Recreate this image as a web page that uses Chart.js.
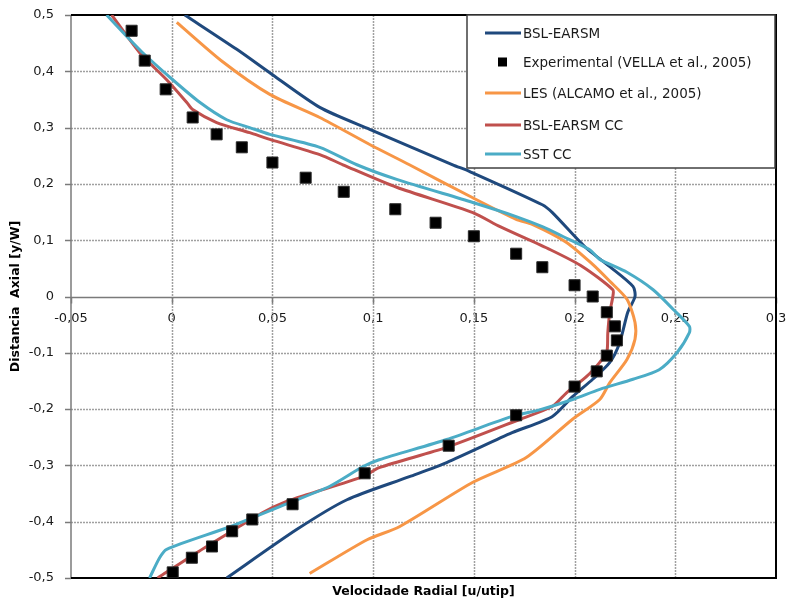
<!DOCTYPE html>
<html>
<head>
<meta charset="utf-8">
<title>Velocidade Radial</title>
<script src="https://cdn.jsdelivr.net/npm/chart.js@4.4.1/dist/chart.umd.min.js"></script>
<style>
  html, body { margin: 0; padding: 0; background: #fff; }
  #chart { display: block; }
</style>
</head>
<body>
<canvas id="chart" width="793" height="601"></canvas>
<script>
// pares [u/utip, y/W]
var experimental = [
    [-0.0199, 0.472], [-0.0134, 0.419], [-0.003, 0.368], [0.0104, 0.318], [0.0223, 0.288],
    [0.0348, 0.265], [0.050, 0.238], [0.0665, 0.211], [0.0854, 0.186], [0.111, 0.155],
    [0.131, 0.131], [0.150, 0.107], [0.171, 0.076], [0.184, 0.052], [0.200, 0.020],
    [0.209, 0.0], [0.216, -0.028], [0.220, -0.053], [0.221, -0.078], [0.216, -0.105],
    [0.211, -0.133], [0.200, -0.160], [0.171, -0.211], [0.1375, -0.265], [0.0958, -0.314],
    [0.060, -0.369], [0.040, -0.396], [0.030, -0.417], [0.020, -0.444], [0.010, -0.464],
    [0.0005, -0.490]
];
var bslEarsm = [
    [0.0065, 0.5], [0.0323, 0.439], [0.050, 0.394], [0.0735, 0.336], [0.0983, 0.297],
    [0.1395, 0.234], [0.148, 0.222], [0.184, 0.163], [0.189, 0.149], [0.2055, 0.087],
    [0.2175, 0.053], [0.229, 0.018], [0.230, 0.0], [0.2264, -0.028], [0.2224, -0.082],
    [0.2175, -0.117], [0.209, -0.147], [0.199, -0.178], [0.189, -0.213], [0.169, -0.242],
    [0.1365, -0.295], [0.118, -0.320], [0.087, -0.361], [0.062, -0.414], [0.0273, -0.5]
];
var les = [
    [0.0025, 0.487], [0.0253, 0.417], [0.0487, 0.359], [0.0735, 0.318], [0.0983, 0.270],
    [0.118, 0.234], [0.148, 0.178], [0.171, 0.137], [0.179, 0.128], [0.196, 0.096],
    [0.209, 0.057], [0.2175, 0.027], [0.226, -0.005], [0.230, -0.046], [0.230, -0.076],
    [0.226, -0.112], [0.2175, -0.153], [0.2125, -0.183], [0.199, -0.218], [0.176, -0.286],
    [0.1495, -0.330], [0.113, -0.409], [0.097, -0.432], [0.0685, -0.492]
];
var bslEarsmCC = [
    [-0.0298, 0.5], [-0.0159, 0.433], [-0.0025, 0.385], [0.0074, 0.345], [0.0104, 0.332],
    [0.0223, 0.309], [0.0387, 0.291], [0.0487, 0.279], [0.0735, 0.252], [0.085, 0.234],
    [0.1117, 0.194], [0.1495, 0.149], [0.163, 0.124], [0.188, 0.083], [0.204, 0.053],
    [0.219, 0.012], [0.219, 0.0], [0.2175, -0.028], [0.2165, -0.064], [0.216, -0.099],
    [0.2125, -0.117], [0.206, -0.142], [0.196, -0.171], [0.189, -0.195], [0.173, -0.218],
    [0.1365, -0.268], [0.103, -0.304], [0.095, -0.320], [0.067, -0.352], [0.057, -0.364],
    [0.045, -0.384], [0.0288, -0.419], [0.0124, -0.455], [-0.007, -0.5]
];
var sstCC = [
    [-0.0323, 0.5], [-0.0223, 0.462], [-0.0144, 0.433], [0.0005, 0.385], [0.0139, 0.345],
    [0.0273, 0.314], [0.0387, 0.300], [0.0487, 0.288], [0.0735, 0.265], [0.0919, 0.234],
    [0.1117, 0.208], [0.1495, 0.167], [0.171, 0.142], [0.184, 0.124], [0.194, 0.107],
    [0.2075, 0.083], [0.2125, 0.066], [0.226, 0.043], [0.239, 0.012], [0.249, -0.023],
    [0.257, -0.053], [0.257, -0.064], [0.251, -0.099], [0.242, -0.130], [0.229, -0.147],
    [0.2125, -0.165], [0.199, -0.183], [0.183, -0.201], [0.169, -0.213], [0.1365, -0.254],
    [0.103, -0.290], [0.095, -0.302], [0.0785, -0.337], [0.0586, -0.366], [0.0288, -0.409],
    [-0.0025, -0.449], [-0.006, -0.464], [-0.011, -0.5]
];

var seriesNames = ['BSL-EARSM', 'Experimental (VELLA et al., 2005)', 'LES (ALCAMO et al., 2005)', 'BSL-EARSM CC', 'SST CC'];
var seriesColors = ['#1f497d', '#000000', '#f79646', '#c0504d', '#4bacc6'];

var xTicks = [-0.05, 0, 0.05, 0.1, 0.15, 0.2, 0.25, 0.3];
var yTicks = [-0.5, -0.4, -0.3, -0.2, -0.1, 0, 0.1, 0.2, 0.3, 0.4, 0.5];

var xTitle = 'Velocidade Radial [u/utip]';
var yTitle = 'Distancia  Axial [y/W]';

// ====== helpers ======
function toXY(arr) {
    return arr.map(function(p) { return { x: p[0], y: p[1] }; });
}
function fmt(v) {
    return String(Math.round(v * 100) / 100).replace('.', ',');
}
function lineSet(i, arr) {
    return {
        label: seriesNames[i],
        data: toXY(arr),
        showLine: true,
        borderColor: seriesColors[i],
        borderWidth: 3,
        pointRadius: 0,
        tension: 0.25
    };
}
function seg(g, x1, y1, x2, y2) {
    g.beginPath();
    g.moveTo(x1, y1);
    g.lineTo(x2, y2);
    g.stroke();
}

Chart.defaults.font.family = '"DejaVu Sans", Verdana, sans-serif';
Chart.defaults.font.size = 13;
Chart.defaults.color = '#1a1a1a';

// ====== grade, eixos, moldura, títulos e legenda ======
var decor = {
    id: 'decor',
    beforeDatasetsDraw: function(chart) {
        var a = chart.chartArea, g = chart.ctx;
        var sx = chart.scales.x, sy = chart.scales.y;
        var y0 = Math.round(sy.getPixelForValue(0)) + 0.5;
        var i, p;
        g.save();
        // grade pontilhada
        g.strokeStyle = '#a0a0a0';
        g.lineWidth = 1.5;
        g.setLineDash([2, 1]);
        for (i = 1; i < xTicks.length - 1; i++) {
            p = Math.round(sx.getPixelForValue(xTicks[i])) + 0.5;
            seg(g, p, a.top, p, a.bottom);
        }
        for (i = 1; i < yTicks.length - 1; i++) {
            if (yTicks[i] === 0) continue;
            p = Math.round(sy.getPixelForValue(yTicks[i])) + 0.5;
            seg(g, a.left, p, a.right, p);
        }
        // eixos cinzas e marcas
        g.setLineDash([]);
        g.strokeStyle = '#7a7a7a';
        g.lineWidth = 1.5;
        seg(g, a.left, a.top, a.left, a.bottom);
        seg(g, a.left, y0, a.right, y0);
        for (i = 0; i < yTicks.length; i++) {
            p = Math.round(sy.getPixelForValue(yTicks[i])) + 0.5;
            seg(g, a.left - 6, p, a.left, p);
        }
        for (i = 0; i < xTicks.length; i++) {
            p = Math.round(sx.getPixelForValue(xTicks[i])) + 0.5;
            seg(g, p, y0, p, y0 + 6);
        }
        // moldura preta
        g.strokeStyle = '#000';
        g.lineWidth = 2;
        g.beginPath();
        g.moveTo(a.left, a.top);
        g.lineTo(a.right, a.top);
        g.lineTo(a.right, a.bottom);
        g.lineTo(a.left, a.bottom);
        g.stroke();
        g.restore();
    },
    afterDraw: function(chart) {
        var a = chart.chartArea, g = chart.ctx;
        g.save();
        g.fillStyle = '#000';
        g.font = 'bold 12.5px "DejaVu Sans", Verdana, sans-serif';
        g.textAlign = 'center';
        g.textBaseline = 'middle';
        g.fillText(xTitle, (a.left + a.right) / 2, 592);
        g.translate(15.5, (a.top + a.bottom) / 2);
        g.rotate(-Math.PI / 2);
        g.fillText(yTitle, 0, 0);
        g.restore();

        // legenda
        var bx = 467, by = 15, bw = 308, bh = 153;
        var rows = [33, 62, 93, 125, 154];
        g.save();
        g.fillStyle = '#fff';
        g.fillRect(bx, by, bw, bh);
        g.strokeStyle = '#404040';
        g.lineWidth = 1.5;
        g.strokeRect(bx, by, bw, bh);
        g.font = '13.5px "DejaVu Sans", Verdana, sans-serif';
        g.textBaseline = 'middle';
        g.textAlign = 'left';
        for (var i = 0; i < seriesNames.length; i++) {
            var y = rows[i];
            if (i === 1) {
                g.fillStyle = '#000';
                g.fillRect(498, y - 4.5, 9, 9);
            } else {
                g.strokeStyle = seriesColors[i];
                g.lineWidth = 3;
                seg(g, 485, y, 521, y);
            }
            g.fillStyle = '#1a1a1a';
            g.fillText(seriesNames[i], 523, y + 1);
        }
        g.restore();
    }
};

// as linhas da grade são desenhadas pelo plugin; a escala só posiciona os rótulos
var gridOpts = { drawOnChartArea: false, color: 'rgba(0,0,0,0)', tickColor: 'rgba(0,0,0,0)', tickLength: 6 };
var borderOpts = { color: 'rgba(0,0,0,0)', width: 1.5 };

// a ordem do array define o empilhamento: o primeiro fica por cima
new Chart(document.getElementById('chart').getContext('2d'), {
    type: 'scatter',
    data: {
        datasets: [
            {
                label: seriesNames[1],
                data: toXY(experimental),
                showLine: false,
                pointStyle: 'rect',
                pointRadius: 7.8,
                backgroundColor: '#000',
                borderColor: '#2a2a2a',
                borderWidth: 1
            },
            lineSet(4, sstCC),
            lineSet(3, bslEarsmCC),
            lineSet(2, les),
            lineSet(0, bslEarsm)
        ]
    },
    options: {
        responsive: false,
        animation: false,
        events: [],
        layout: { padding: { left: 0, right: 17, top: 15, bottom: 23 } },
        plugins: { legend: { display: false }, tooltip: { enabled: false } },
        scales: {
            x: {
                type: 'linear',
                position: { y: 0 },
                min: -0.05,
                max: 0.3,
                afterBuildTicks: function(s) {
                    s.ticks = xTicks.map(function(v) { return { value: v }; });
                },
                afterFit: function(s) { s.paddingLeft = 0; s.paddingRight = 0; },
                ticks: { padding: 8, maxRotation: 0, autoSkip: false, callback: fmt },
                grid: gridOpts,
                border: borderOpts
            },
            y: {
                type: 'linear',
                min: -0.5,
                max: 0.5,
                afterBuildTicks: function(s) {
                    s.ticks = yTicks.map(function(v) { return { value: v }; });
                },
                afterFit: function(s) { s.width = 71; s.paddingTop = 0; s.paddingBottom = 0; },
                ticks: { padding: 11, autoSkip: false, callback: fmt },
                grid: gridOpts,
                border: borderOpts
            }
        }
    },
    plugins: [decor]
});
</script>
</body>
</html>
